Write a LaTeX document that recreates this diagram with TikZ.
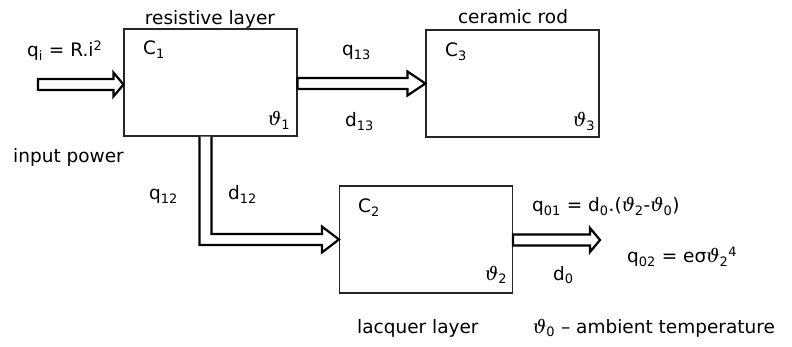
\documentclass[tikz,border=0pt]{standalone}
\usepackage{fontspec}
\setmainfont{DejaVu Sans}
\newfontfamily\grk{DejaVu Serif}
\usetikzlibrary{calc,positioning}

\tikzset{
  blk/.style={draw=black!85, line width=1.1pt, minimum width=173pt, minimum height=107pt, inner sep=0pt},
  flow/.style={draw, line width=2.2pt, fill=white, line join=miter},
  lbl/.style={font=\fontsize{18.5}{22}\selectfont, inner sep=0pt, anchor=base west},
}
\newcommand\low[1]{\textsubscript{#1}}
\newcommand\vth{{\grk\itshape ϑ}}
% hollow block arrow: start, tip, head length
\newcommand\flowarrow[3]{%
  \draw[flow] let \p1=(#1), \p2=(#2) in
    (\x1,\y2+5.5pt) -- (\x2-#3,\y2+5.5pt) -- (\x2-#3,\y2+12pt) -- (\x2,\y2)
    -- (\x2-#3,\y2-12pt) -- (\x2-#3,\y2-5.5pt) -- (\x1,\y2-5.5pt) -- cycle;}

\begin{document}
\begin{tikzpicture}[x=1pt,y=-1pt]
\useasboundingbox (0,0) rectangle (792,347);
% boxes
\node[blk] (res) at (210.5,82.5) {};
\node[blk] (rod) at (512.5,83.5) {};
\node[blk] (lac) at (426,239.5) {};
\coordinate (pin) at (38,84.5);
\coordinate (b1) at ($(res.south)+(-5,0)$);
\coordinate (pout) at (600,240);
% heat flows
\flowarrow{pin}{$(res.west)+(0,2)$}{10pt}
\flowarrow{res.east}{rod.west}{18pt}
\flowarrow{lac.east}{pout}{10pt}
\draw[flow] let \p1=(b1), \p2=(lac.west) in
  (\x1-6pt,\y1) |- (\x2-17pt,\y2-5.5pt) -- (\x2-17pt,\y2-13pt) -- (\x2,\y2)
  -- (\x2-17pt,\y2+13pt) -- (\x2-17pt,\y2+5.5pt) -| (\x1+6pt,\y1);
% labels
\node[lbl,anchor=base] (tres) at (210,25) {resistive layer};
\node[lbl,anchor=base] (trod) at (513,24) {ceramic rod};
\node[lbl] (qi) at (27,57) {q\low{i} = R.i\textsuperscript{2}};
\node[lbl] (inp) at (13,163) {input power};
\node[lbl] (c1) at (143,55) {C\low{1}};
\node[lbl] (t1) at (268,126) {\vth\low{1}};
\node[lbl] (q13) at (342,56) {q\low{13}};
\node[lbl] (d13) at (345,127) {d\low{13}};
\node[lbl] (c3) at (445,57) {C\low{3}};
\node[lbl] (t3) at (573,127) {\vth\low{3}};
\node[lbl] (q12) at (149,200) {q\low{12}};
\node[lbl] (d12) at (228,200) {d\low{12}};
\node[lbl] (c2) at (358,213) {C\low{2}};
\node[lbl] (t2) at (485,280) {\vth\low{2}};
\node[lbl] (d0) at (553,280) {d\low{0}};
\node[lbl] (q01) at (532,212) {q\low{01} = d\low{0}.(\vth\low{2}-\vth\low{0})};
\node[lbl] (q02) at (627,263) {q\low{02} = eσ\vth\low{2}\textsuperscript{4}};
\node[lbl] (tlac) at (357,333) {lacquer layer};
\node[lbl] (amb) at (533,333) {\vth\low{0} – ambient temperature};
\end{tikzpicture}
\end{document}
